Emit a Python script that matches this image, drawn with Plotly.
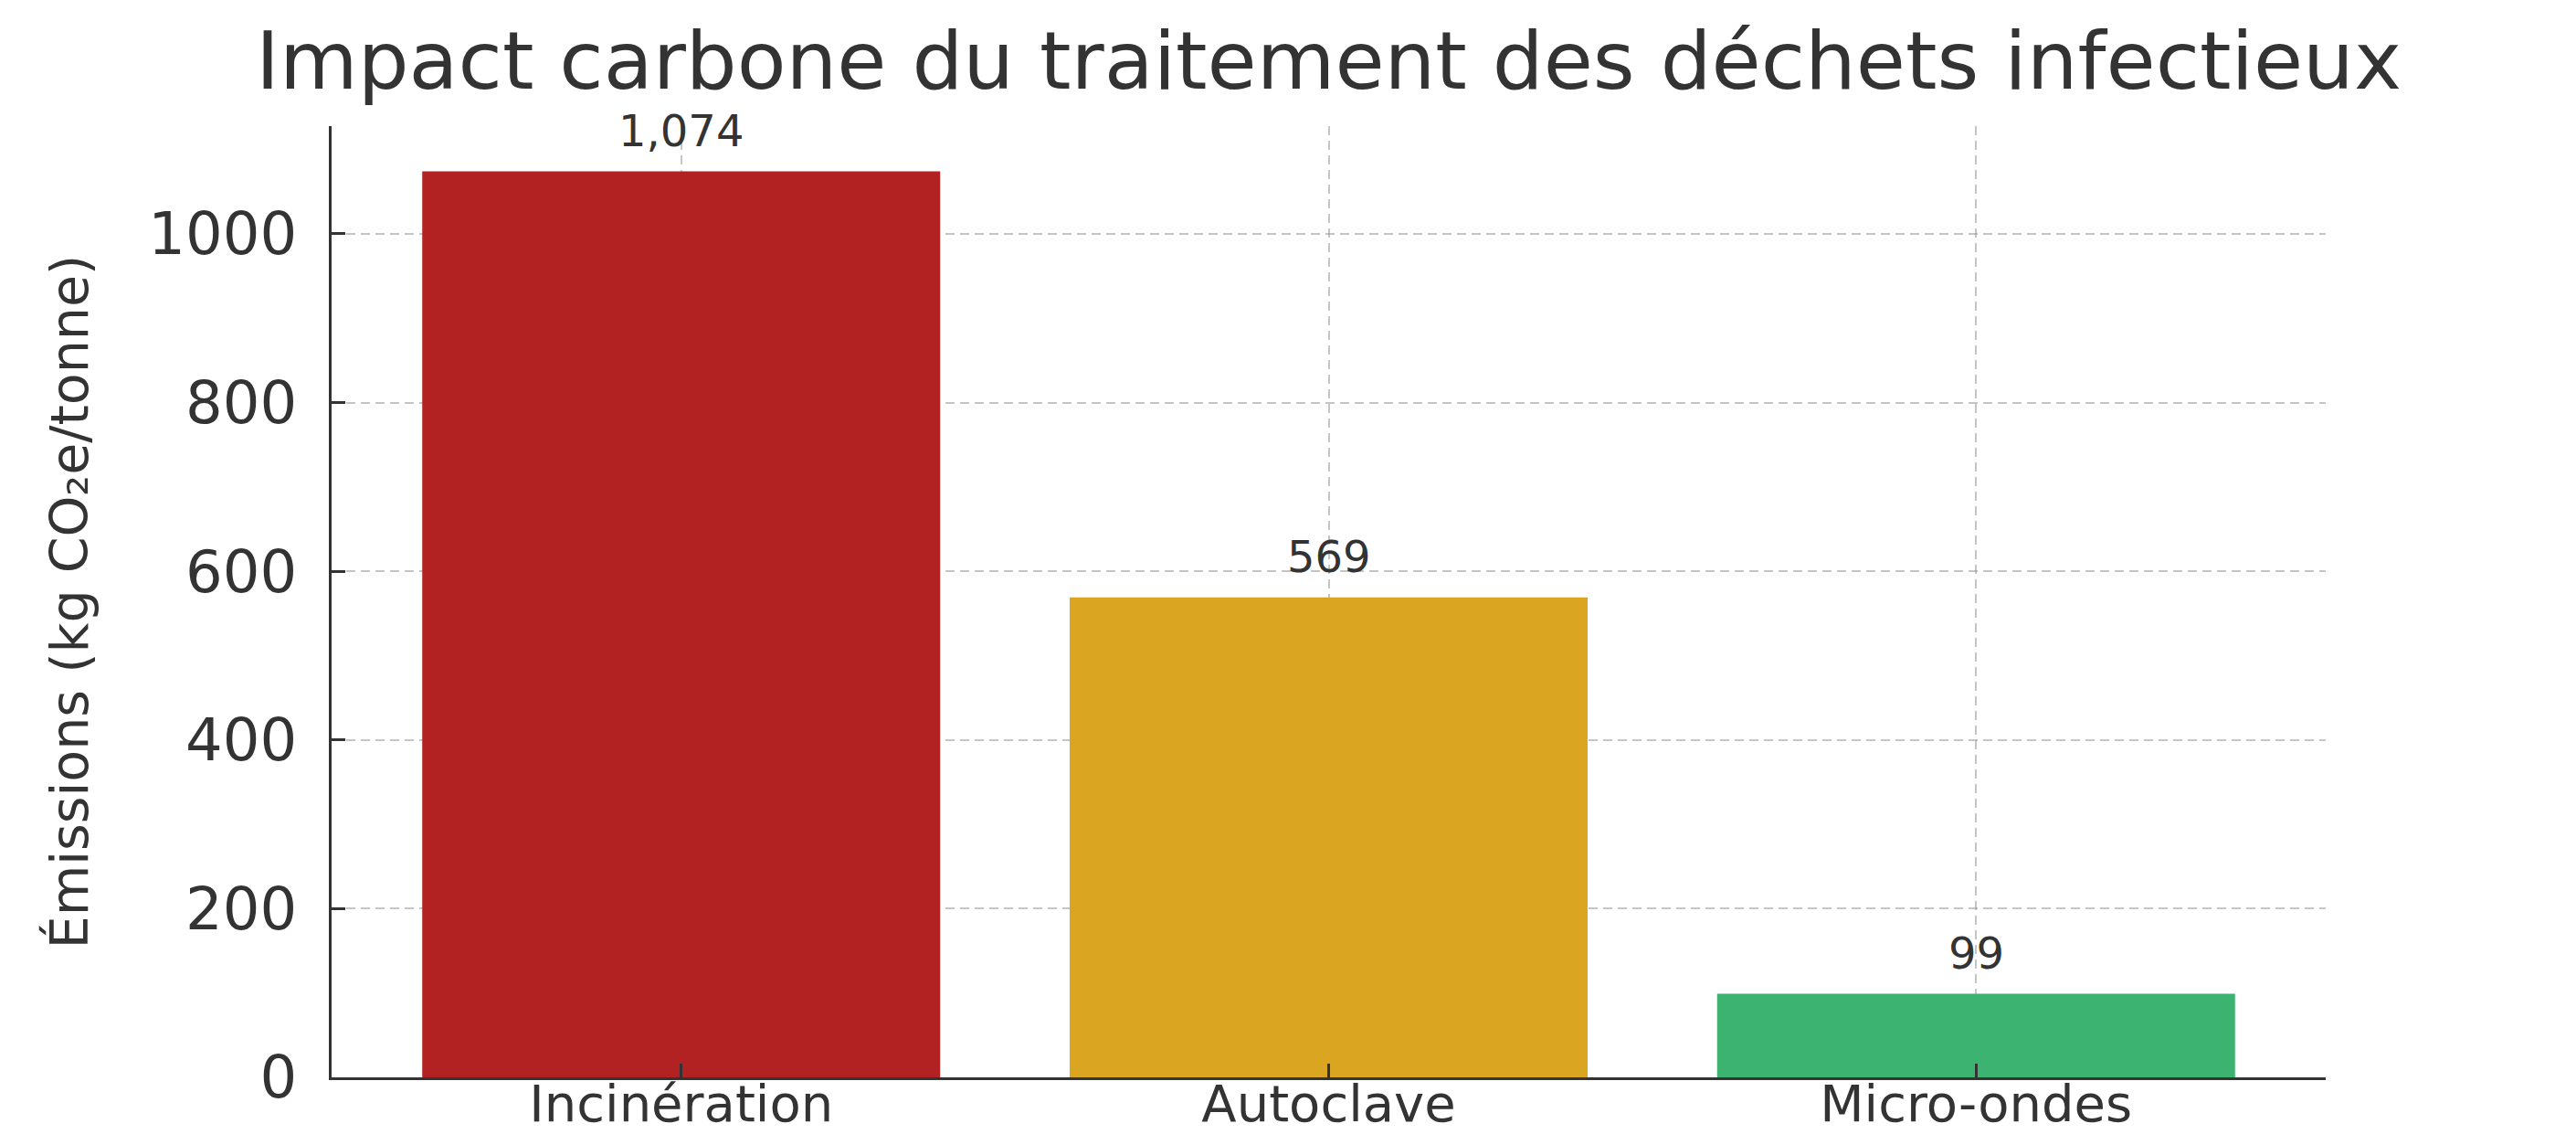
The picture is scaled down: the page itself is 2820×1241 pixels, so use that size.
import plotly.graph_objects as go

categories = ["Incinération", "Autoclave", "Micro-ondes"]
emissions = [1074, 569, 99]
bar_colors = ["#B22222", "#DAA520", "#3CB371"]
y_ticks = [0, 200, 400, 600, 800, 1000]

title_text = "Impact carbone du traitement des déchets infectieux"
y_title = "Émissions (kg CO₂e/tonne)"

FONT = "DejaVu Sans"
TXT = "#333333"
GRID = "rgba(150,150,150,0.55)"

fig = go.Figure(
    go.Bar(
        x=categories,
        y=emissions,
        marker=dict(color=bar_colors, line=dict(width=0)),
        showlegend=False,
        hoverinfo="x+y",
    )
)

for c, v in zip(categories, emissions):
    fig.add_annotation(
        x=c, y=v, xref="x", yref="y",
        text=f"{v:,}",
        showarrow=False,
        yanchor="bottom",
        yshift=16,
        borderpad=0,
        font=dict(family=FONT, size=48, color=TXT),
    )

ymax = max(emissions) * 1.05

fig.update_layout(
    width=2820,
    height=1241,
    margin=dict(l=355, r=282, t=130, b=70, autoexpand=False),
    paper_bgcolor="white",
    plot_bgcolor="white",
    bargap=0.2,
    title=dict(
        text=title_text,
        font=dict(family=FONT, size=88, color=TXT),
        x=0.5,
        xanchor="center",
        xref="paper",
        yref="container",
        y=1 - 58 / 1241,
        yanchor="middle",
    ),
    font=dict(family=FONT, color=TXT),
)

fig.update_xaxes(
    type="category",
    range=[-0.54, 2.54],
    showline=True,
    linecolor=TXT,
    linewidth=3,
    ticks="inside",
    ticklen=15,
    tickwidth=3,
    tickcolor=TXT,
    showgrid=True,
    gridcolor=GRID,
    gridwidth=2,
    griddash="10px,6px",
    layer="above traces",
    tickfont=dict(family=FONT, size=56, color=TXT),
    ticklabelstandoff=-22,
    zeroline=False,
)

fig.update_yaxes(
    range=[0, ymax],
    tickvals=y_ticks,
    ticktext=[str(t) for t in y_ticks],
    showline=True,
    linecolor=TXT,
    linewidth=3,
    ticks="inside",
    ticklen=15,
    tickwidth=3,
    tickcolor=TXT,
    showgrid=True,
    gridcolor=GRID,
    gridwidth=2,
    griddash="10px,6px",
    layer="above traces",
    zeroline=False,
    tickfont=dict(family=FONT, size=64, color=TXT),
    ticklabelstandoff=22,
    title=dict(text=y_title, font=dict(family=FONT, size=57, color=TXT), standoff=48),
)

fig.write_html("out.html")
